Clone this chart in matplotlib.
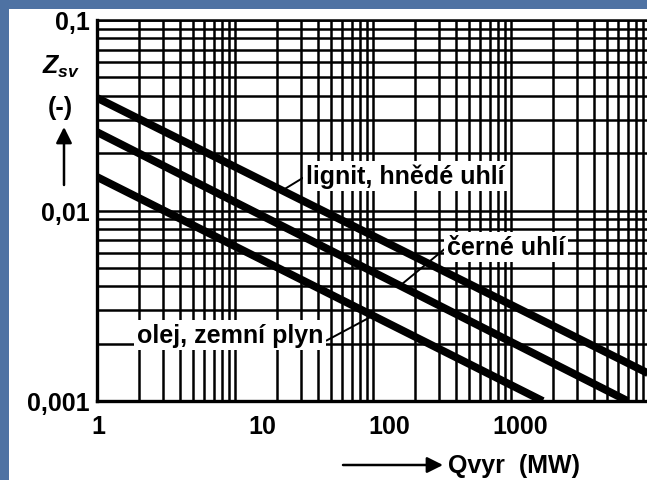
import numpy as np
import matplotlib
matplotlib.use("Agg")
import matplotlib.pyplot as plt
from matplotlib.patches import Rectangle
from matplotlib.transforms import blended_transform_factory

plt.rcParams["font.family"] = ["Liberation Sans", "DejaVu Sans"]
plt.rcParams["font.weight"] = "bold"
plt.rcParams["mathtext.fontset"] = "custom"
plt.rcParams["mathtext.it"] = "Liberation Sans:italic:bold"
plt.rcParams["mathtext.rm"] = "Liberation Sans:bold"

# specific heat-loss curves Z_sv vs. boiler output Qvyr (log-log)
lignit_q = [1, 10000]
lignit_z = [0.039, 0.00139]
cerne_q = [1, 7000]
cerne_z = [0.0258, 0.001]
olej_q = [1, 1700]
olej_z = [0.015, 0.001]

x_ticks = [1, 10, 100, 1000]
x_tick_text = ["1", "10", "100", "1000"]
y_ticks = [0.001, 0.01, 0.1]
y_tick_text = ["0,001", "0,01", "0,1"]

W, H = 647, 481
BLUE = "#4e72a3"
FS = 18


def on_curve(qs, zs, q):
    # point on a straight log-log segment
    lz = np.interp(np.log10(q), np.log10(qs), np.log10(zs))
    return q, 10 ** lz


def fpx(x, y):
    # figure pixels measured from the top-left corner
    return x, H - y


fig = plt.figure(figsize=(W / 100, H / 100), dpi=100, facecolor=BLUE)
fig.patches.append(Rectangle((9 / W, 0), 1, (H - 10) / H, transform=fig.transFigure,
                             facecolor="white", edgecolor="none", zorder=-5))

ax = fig.add_axes([97 / W, 1 - 402 / H, (649 - 97) / W, (402 - 21) / H])
ax.set_xscale("log")
ax.set_yscale("log")
ax.set_xlim(1, 10000)
ax.set_ylim(0.001, 0.1)
ax.set_facecolor("white")

ax.grid(True, which="both", color="black", lw=1.8, zorder=1)
ax.set_axisbelow(True)
for s in ["left", "bottom"]:
    ax.spines[s].set_linewidth(2.4)
for s in ["top", "right"]:
    ax.spines[s].set_linewidth(1.8)

ax.tick_params(which="both", length=0)
ax.set_yticks(y_ticks)
ax.set_yticklabels(y_tick_text, fontsize=FS, fontweight="bold")
ax.tick_params(axis="y", pad=5)
ax.set_xticks(x_ticks)
ax.set_xticklabels([])
ax.yaxis.set_minor_formatter(plt.NullFormatter())
ax.xaxis.set_minor_formatter(plt.NullFormatter())

# x tick labels sit a little right of their grid lines
trans = blended_transform_factory(ax.transData, ax.transAxes)
label_shift = [1, 27, 16, 9]
for q, t, dx in zip(x_ticks, x_tick_text, label_shift):
    ax.annotate(t, xy=(q, 0), xycoords=trans, xytext=(dx, -25),
                textcoords="offset pixels", ha="center", va="center",
                fontsize=FS, fontweight="bold", annotation_clip=False)

for qs, zs in [(lignit_q, lignit_z), (cerne_q, cerne_z), (olej_q, olej_z)]:
    ax.plot(qs, zs, color="black", lw=5.6, solid_capstyle="butt", zorder=3)

box = dict(boxstyle="square,pad=0.12", facecolor="white", edgecolor="none")
lead = dict(arrowstyle="-", color="black", lw=1.4, shrinkA=0, shrinkB=0)

ax.annotate("lignit, hnědé uhlí", xy=on_curve(lignit_q, lignit_z, 22),
            xytext=fpx(306, 177), textcoords="figure pixels", ha="left", va="center",
            fontsize=FS, fontweight="bold", bbox=box,
            arrowprops=dict(lead, relpos=(0, 0.5)), zorder=4)
ax.annotate("černé uhlí", xy=on_curve(cerne_q, cerne_z, 157),
            xytext=fpx(447, 248), textcoords="figure pixels", ha="left", va="center",
            fontsize=FS, fontweight="bold", bbox=box,
            arrowprops=dict(lead, relpos=(0, 0.5)), zorder=4)
ax.annotate("olej, zemní plyn", xy=on_curve(olej_q, olej_z, 100),
            xytext=fpx(137, 336), textcoords="figure pixels", ha="left", va="center",
            fontsize=FS, fontweight="bold", bbox=box,
            arrowprops=dict(lead, relpos=(1, 0.2)), zorder=4)

# y axis caption with upward arrow
fig.text(*fpx(61, 67), r"$Z_{sv}$", ha="center", va="center", fontsize=FS,
         transform=None)
fig.text(*fpx(60, 108), "(-)", ha="center", va="center", fontsize=FS,
         fontweight="bold", transform=None)
ax.annotate("", xy=fpx(64, 128), xytext=fpx(64, 186), xycoords="figure pixels",
            textcoords="figure pixels",
            arrowprops=dict(arrowstyle="-|>", color="black", lw=1.8,
                            mutation_scale=24, shrinkA=0, shrinkB=0))

# x axis caption with arrow
ax.annotate("", xy=fpx(443, 466), xytext=fpx(343, 466), xycoords="figure pixels",
            textcoords="figure pixels",
            arrowprops=dict(arrowstyle="-|>", color="black", lw=1.8,
                            mutation_scale=24, shrinkA=0, shrinkB=0))
fig.text(*fpx(448, 466), "Qvyr  (MW)", ha="left", va="center", fontsize=FS,
         fontweight="bold", transform=None)

fig.savefig("out.png", dpi=100, facecolor=BLUE)
